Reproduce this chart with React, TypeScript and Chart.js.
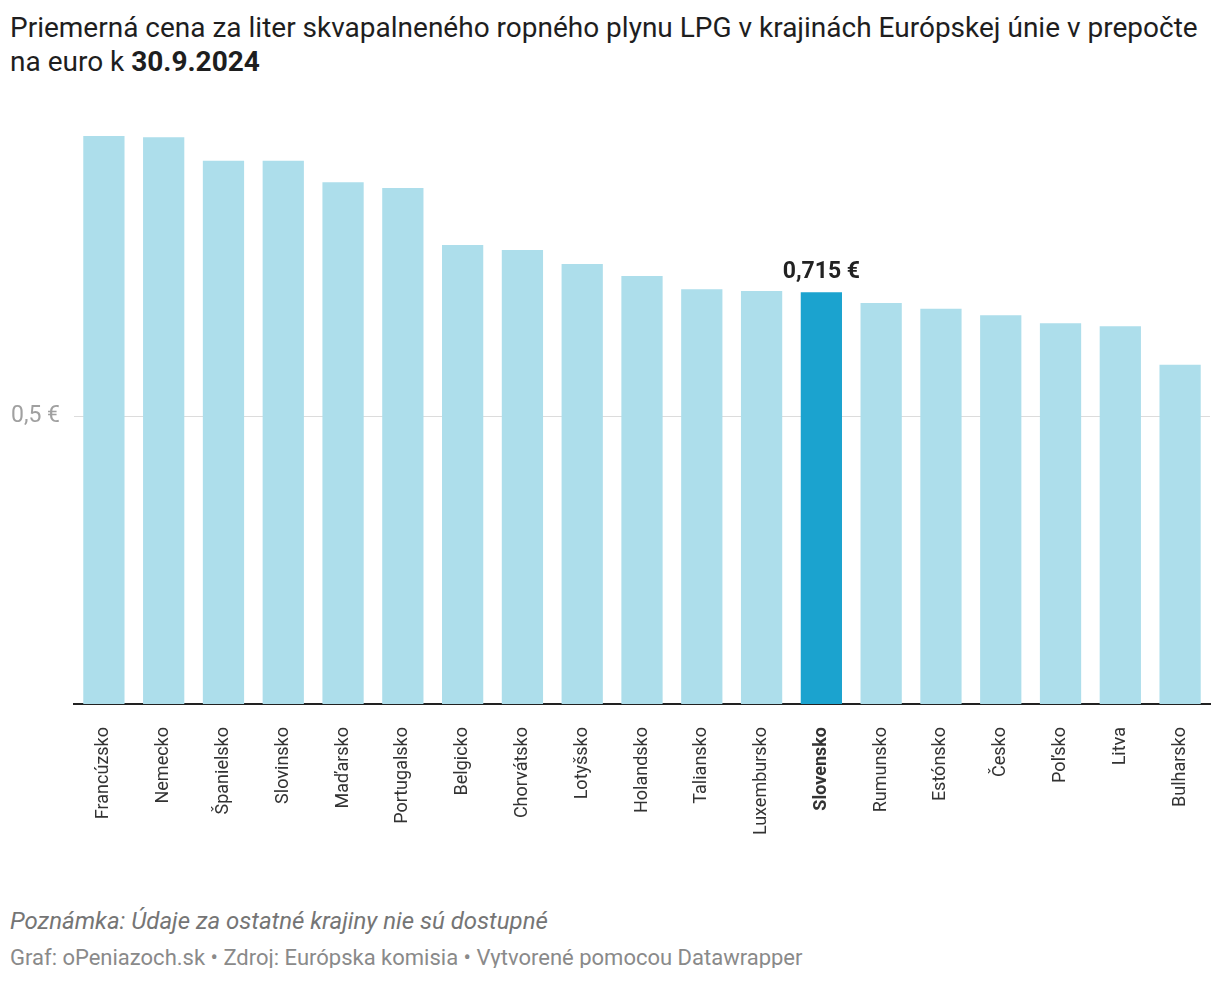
import React, { useEffect, useRef } from "react";
import { Chart, registerables } from "chart.js";

Chart.register(...registerables);

const categories = [
  "Francúzsko", "Nemecko", "Španielsko", "Slovinsko", "Maďarsko", "Portugalsko",
  "Belgicko", "Chorvátsko", "Lotyšsko", "Holandsko", "Taliansko", "Luxembursko",
  "Slovensko", "Rumunsko", "Estónsko", "Česko", "Poľsko", "Litva", "Bulharsko",
];
const prices = [
  0.986, 0.984, 0.943, 0.943, 0.906, 0.896,
  0.797, 0.788, 0.764, 0.743, 0.720, 0.717,
  0.715, 0.696, 0.686, 0.675, 0.661, 0.656, 0.589,
];
const highlightIndex = 12;
const highlightLabel = "0,715 €";
const yTickValues = [0.5];
const yTickLabels = ["0,5 €"];

const FONT = "Roboto, 'Noto Sans', sans-serif";
const LIGHT = "#addeeb";
const DARK = "#1ba3cf";

const labelPlugin = {
  id: "hlLabel",
  afterDatasetsDraw(chart: any) {
    const meta = chart.getDatasetMeta(0);
    const el = meta.data[highlightIndex];
    if (!el) return;
    const ctx = chart.ctx;
    ctx.save();
    ctx.font = `bold 23px ${FONT}`;
    ctx.fillStyle = "#222";
    ctx.textAlign = "center";
    ctx.textBaseline = "alphabetic";
    ctx.fillText(highlightLabel, el.x, el.y - 14);
    ctx.restore();
  },
};

export default function App() {
  const ref = useRef<HTMLCanvasElement>(null);
  useEffect(() => {
    if (!ref.current) return;
    const chart = new Chart(ref.current, {
      type: "bar",
      data: {
        labels: categories,
        datasets: [
          {
            data: prices,
            backgroundColor: prices.map((_, i) => (i === highlightIndex ? DARK : LIGHT)),
            barPercentage: 0.69,
            categoryPercentage: 1,
          },
        ],
      },
      options: {
        animation: false,
        responsive: false,
        maintainAspectRatio: false,
        layout: { padding: { top: 120, right: 2, left: 0, bottom: 0 } },
        plugins: { legend: { display: false }, tooltip: { enabled: false } },
        scales: {
          x: {
            grid: { display: false, drawTicks: false },
            border: { display: true, color: "#222", width: 2 },
            ticks: {
              autoSkip: false,
              maxRotation: 90,
              minRotation: 90,
              padding: 23,
              color: "#333",
              font: (c: any) => ({
                family: FONT,
                size: 18,
                weight: c.index === highlightIndex ? "bold" : "normal",
              }),
            },
            afterFit: (s: any) => {
              s.height = 170;
              s.paddingLeft = 0;
              s.paddingRight = 0;
            },
          },
          y: {
            min: 0,
            max: 1,
            afterBuildTicks: (s: any) => {
              s.ticks = yTickValues.map((v) => ({ value: v }));
            },
            grid: { color: "#dcdcdc", lineWidth: 1, drawTicks: false },
            border: { display: false },
            ticks: {
              padding: 14,
              color: "#a0a0a0",
              font: { family: FONT, size: 23 },
              callback: (v: any) => {
                const i = yTickValues.indexOf(Number(v));
                return i >= 0 ? yTickLabels[i] : "";
              },
            },
            afterFit: (s: any) => {
              s.width = 66;
              s.paddingTop = 0;
              s.paddingBottom = 0;
            },
          },
        },
      },
      plugins: [labelPlugin],
    });
    return () => chart.destroy();
  }, []);

  return (
    <div style={{ position: "relative", width: 1204, height: 960, fontFamily: FONT }}>
      <div
        style={{
          position: "absolute",
          left: 2,
          top: 3,
          fontSize: 28,
          lineHeight: "34px",
          color: "#1e1e1e",
          whiteSpace: "nowrap",
        }}
      >
        <div>Priemerná cena za liter skvapalneného ropného plynu LPG v krajinách Európskej únie v prepočte</div>
        <div>
          na euro k <b>30.9.2024</b>
        </div>
      </div>
      <canvas
        ref={ref}
        width={1204}
        height={866}
        style={{ position: "absolute", left: 0, top: 0, width: 1204, height: 866 }}
      />
      <div
        style={{
          position: "absolute",
          left: 2,
          top: 899,
          fontSize: 24,
          fontStyle: "italic",
          color: "#757575",
          whiteSpace: "nowrap",
        }}
      >
        Poznámka: Údaje za ostatné krajiny nie sú dostupné
      </div>
      <div
        style={{
          position: "absolute",
          left: 2,
          top: 937,
          fontSize: 22,
          color: "#8a8a8a",
          whiteSpace: "nowrap",
        }}
      >
        Graf: oPeniazoch.sk • Zdroj: Európska komisia • Vytvorené pomocou Datawrapper
      </div>
    </div>
  );
}
